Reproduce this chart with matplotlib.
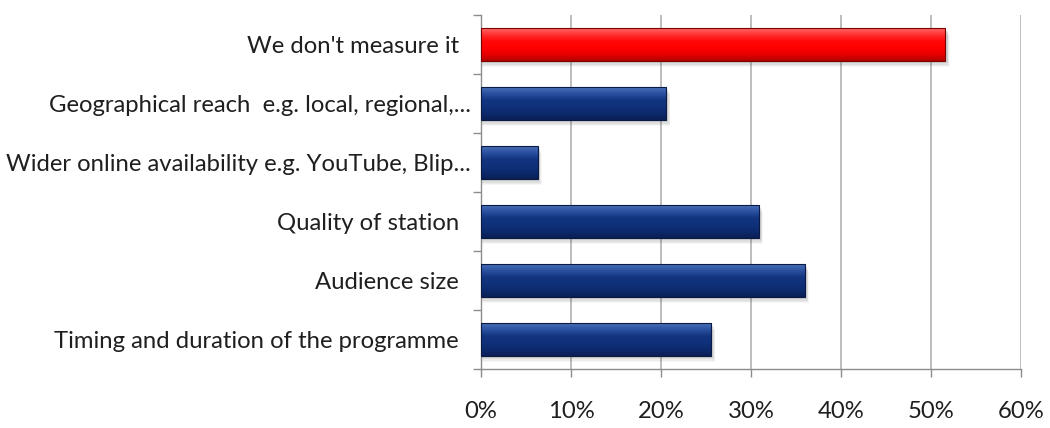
import numpy as np
import matplotlib.pyplot as plt
from matplotlib.colors import LinearSegmentedColormap
from matplotlib.patches import Rectangle

categories = [
    "Timing and duration of the programme  ",
    "Audience size  ",
    "Quality of station  ",
    "Wider online availability e.g. YouTube, Blip...",
    "Geographical reach  e.g. local, regional,...",
    "We don't measure it  ",
]
shares = [25.6, 36.0, 30.9, 6.3, 20.6, 51.6]
highlight = [False, False, False, False, False, True]

x_ticks = [0, 10, 20, 30, 40, 50, 60]
x_tick_labels = ["0%", "10%", "20%", "30%", "40%", "50%", "60%"]

plt.rcParams["font.family"] = ["Lato", "DejaVu Sans"]

# Verlauf von unten (links in der Liste) nach oben
blue_map = LinearSegmentedColormap.from_list(
    "blue_bar", ["#0a1f55", "#0c2a6c", "#10307a", "#12347e", "#2a50a0", "#4a70b8"])
red_map = LinearSegmentedColormap.from_list(
    "red_bar", ["#b00000", "#e80000", "#ff0000", "#ff0808", "#ff3030", "#ff6a6a"])

fig = plt.figure(figsize=(10.5, 4.28), dpi=100)
ax = fig.add_axes([0.458, 0.138, 0.5145, 0.827])

bar_height = 0.55
y_pos = np.arange(len(categories))

ax.set_xlim(0, 60)
ax.set_ylim(-0.5, len(categories) - 0.5)

# Schatten unter den Balken
for y, val in zip(y_pos, shares):
    for k, alpha in enumerate([0.10, 0.08, 0.06, 0.04]):
        off = 0.04 + 0.025 * k
        ax.add_patch(Rectangle((0.15, y - bar_height / 2 - off), val + 0.15 * (k + 1) / 2, bar_height,
                               facecolor="#404040", alpha=alpha, edgecolor="none", zorder=2))

bars = ax.barh(y_pos, shares, height=bar_height, color="none", edgecolor="none", zorder=3)

gradient = np.linspace(0, 1, 256).reshape(-1, 1)
for bar, val, hl in zip(bars, shares, highlight):
    cmap = red_map if hl else blue_map
    y0 = bar.get_y()
    y1 = y0 + bar.get_height()
    im = ax.imshow(gradient, aspect="auto", cmap=cmap, origin="lower",
                   extent=[0, val, y0, y1], zorder=3, interpolation="bilinear")
    im.set_clip_path(bar)
    # Rand des Balkens
    ax.add_patch(Rectangle((0, y0), val, bar.get_height(), facecolor="none",
                           edgecolor="#7a0000" if hl else "#0a1a45", linewidth=0.8, zorder=4))

# Gitterlinien und Achsen
ax.set_xticks(x_ticks)
ax.set_xticklabels(x_tick_labels, fontsize=17.2, color="#1f1f1f")
ax.xaxis.grid(True, color="#ababab", linewidth=1.1, zorder=0)
ax.set_axisbelow(True)

ax.set_yticks(y_pos)
ax.set_yticklabels(categories, fontsize=17.2, color="#1f1f1f")
ax.set_yticks(np.arange(-0.5, len(categories)), minor=True)
ax.tick_params(axis="y", which="major", length=0, pad=7)
ax.tick_params(axis="y", which="minor", length=6, color="#8c8c8c", width=1)
ax.tick_params(axis="x", which="major", length=6, color="#8c8c8c", width=1, pad=17)

for side in ["top", "right"]:
    ax.spines[side].set_visible(False)
for side in ["left", "bottom"]:
    ax.spines[side].set_color("#8c8c8c")
    ax.spines[side].set_linewidth(1)

fig.savefig("out.png", dpi=100)
